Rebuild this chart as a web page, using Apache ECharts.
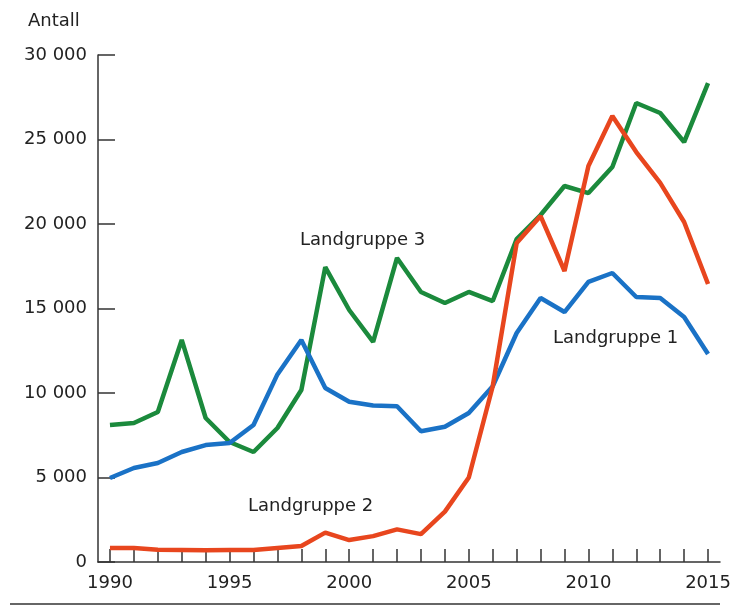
<!DOCTYPE html>
<html>
<head>
<meta charset="utf-8">
<script src="https://cdn.jsdelivr.net/npm/echarts@6/dist/echarts.min.js"></script>
<style>
  html, body { margin: 0; padding: 0; background: #fff; }
  #chart { width: 740px; height: 606px; }
</style>
</head>
<body>
<div id="chart"></div>
<script>
var years = [1990, 1991, 1992, 1993, 1994, 1995, 1996, 1997, 1998, 1999,
             2000, 2001, 2002, 2003, 2004, 2005, 2006, 2007, 2008, 2009,
             2010, 2011, 2012, 2013, 2014, 2015];
var yearLabels = [1990, 1995, 2000, 2005, 2010, 2015];

// Landgruppe 1 (blue)
var landgruppe1 = [4970, 5560, 5860, 6510, 6920, 7040, 8110, 11100, 13140, 10300,
                   9480, 9260, 9220, 7740, 8000, 8820, 10400, 13550, 15620, 14790,
                   16570, 17100, 15680, 15620, 14500, 12310];
// Landgruppe 2 (red)
var landgruppe2 = [830, 830, 720, 710, 690, 710, 710, 830, 950, 1740,
                   1300, 1530, 1930, 1650, 2980, 5000, 10400, 18870, 20470, 17220,
                   23430, 26390, 24260, 22430, 20120, 16450];
// Landgruppe 3 (green)
var landgruppe3 = [8110, 8220, 8880, 13140, 8520, 7100, 6510, 7930, 10180, 17450,
                   14910, 13020, 17990, 15980, 15330, 15980, 15440, 19110, 20530, 22250,
                   21830, 23370, 27160, 26570, 24850, 28340];

var chart = echarts.init(document.getElementById('chart'));
var textCol = '#222';
var axisCol = '#333';
var font = 'DejaVu Sans';

function fmt(v) {
  return String(v).replace(/\B(?=(\d{3})+(?!\d))/g, ' ');
}

function pairs(vals) {
  return years.map(function (y, i) { return [y, vals[i]]; });
}

var option = {
  animation: false,
  backgroundColor: '#fff',
  grid: { left: 98, right: 20, top: 55, bottom: 44 },
  xAxis: {
    type: 'value',
    min: 1989.5,
    max: 2015.5,
    axisLine: { show: true, lineStyle: { color: axisCol, width: 1.5 } },
    axisTick: { show: true, inside: true, length: 13, customValues: years,
                lineStyle: { color: axisCol, width: 1.5 } },
    axisLabel: { color: textCol, fontFamily: font, fontSize: 18, margin: 12,
                 customValues: yearLabels, showMinLabel: true, showMaxLabel: true,
                 formatter: function (v) { return String(v); } },
    splitLine: { show: false }
  },
  yAxis: {
    type: 'value',
    min: 0,
    max: 30000,
    interval: 5000,
    axisLine: { show: true, lineStyle: { color: axisCol, width: 1.5 } },
    axisTick: { show: true, inside: true, length: 17, lineStyle: { color: axisCol, width: 1.5 } },
    axisLabel: { color: textCol, fontFamily: font, fontSize: 18, margin: 11,
                 formatter: function (v) { return fmt(v); } },
    splitLine: { show: false }
  },
  series: [
    { name: 'Landgruppe 1', type: 'line', data: pairs(landgruppe1), showSymbol: false,
      lineStyle: { color: '#1a72c6', width: 4.5 }, z: 3 },
    { name: 'Landgruppe 3', type: 'line', data: pairs(landgruppe3), showSymbol: false,
      lineStyle: { color: '#1b8a3c', width: 4.5 }, z: 2 },
    { name: 'Landgruppe 2', type: 'line', data: pairs(landgruppe2), showSymbol: false,
      lineStyle: { color: '#e8461e', width: 4.5 }, z: 4 }
  ],
  graphic: [
    { type: 'text', left: 28, top: 12,
      style: { text: 'Antall', fill: textCol, font: '18px "DejaVu Sans"' } },
    { type: 'text', left: 300, top: 231,
      style: { text: 'Landgruppe 3', fill: textCol, font: '18px "DejaVu Sans"' } },
    { type: 'text', left: 553, top: 329,
      style: { text: 'Landgruppe 1', fill: textCol, font: '18px "DejaVu Sans"' } },
    { type: 'text', left: 248, top: 497,
      style: { text: 'Landgruppe 2', fill: textCol, font: '18px "DejaVu Sans"' } },
    { type: 'line', shape: { x1: 10, y1: 604, x2: 720, y2: 604 },
      style: { stroke: axisCol, lineWidth: 1.5 } }
  ]
};

chart.setOption(option);
</script>
</body>
</html>
